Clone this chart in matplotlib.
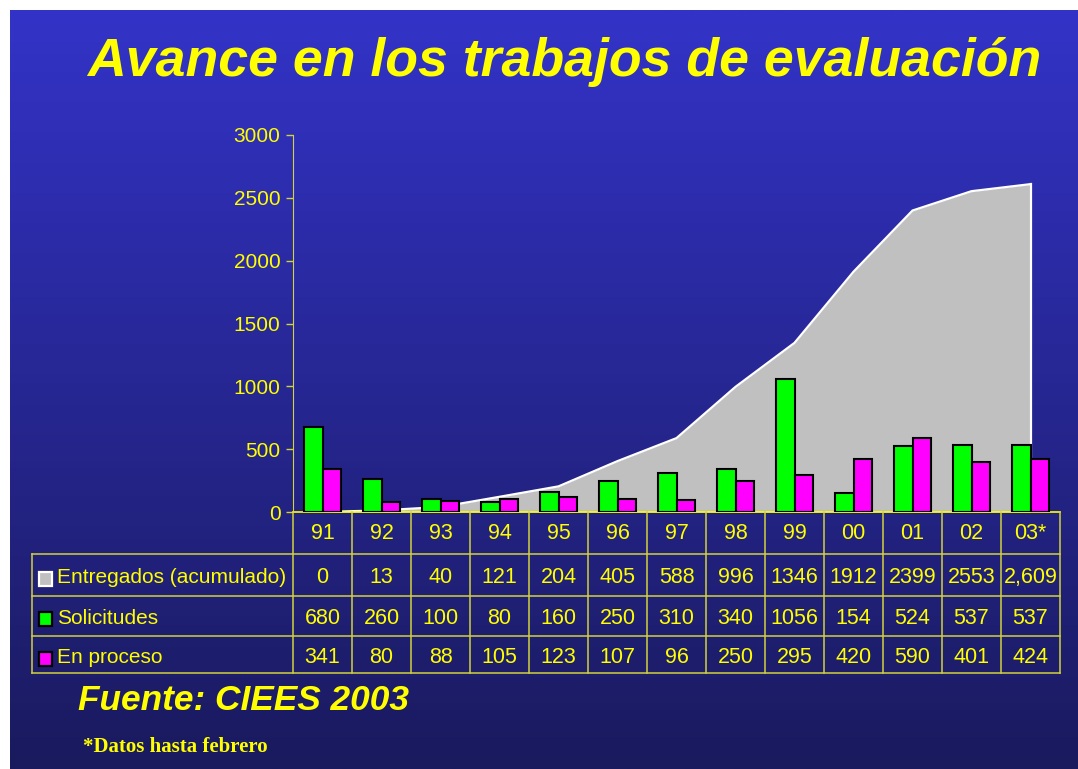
import numpy as np
import matplotlib
matplotlib.use("Agg")
import matplotlib.pyplot as plt
from matplotlib.transforms import blended_transform_factory
from matplotlib.patches import Rectangle

# data
years = ["91", "92", "93", "94", "95", "96", "97", "98", "99", "00", "01", "02", "03*"]
entregados = [0, 13, 40, 121, 204, 405, 588, 996, 1346, 1912, 2399, 2553, 2609]
solicitudes = [680, 260, 100, 80, 160, 250, 310, 340, 1056, 154, 524, 537, 537]
en_proceso = [341, 80, 88, 105, 123, 107, 96, 250, 295, 420, 590, 401, 424]
entregados_txt = [str(v) for v in entregados[:-1]] + ["2,609"]
series_names = ["Entregados (acumulado)", "Solicitudes", "En proceso"]
yticks = [0, 500, 1000, 1500, 2000, 2500, 3000]

W, H = 1078, 769
YEL = "#FFFF00"
LINE = "#D2D23C"
plt.rcParams['font.family'] = ['Liberation Sans', 'DejaVu Sans']

fig = plt.figure(figsize=(W / 100, H / 100), dpi=100)
fig.patch.set_facecolor("white")

def fy(p):
    return 1 - p / H

def fx(p):
    return p / W

# blue gradient background (white strip top and left)
bg = fig.add_axes([fx(10), 0, fx(W - 10), fy(10)], zorder=-5)
top = np.array([51, 51, 200]) / 255
bot = np.array([26, 26, 94]) / 255
t = np.linspace(0, 1, 256)[:, None]
grad = top[None, :] * (1 - t) + bot[None, :] * t
bg.imshow(grad[:, None, :], aspect="auto", extent=[0, 1, 0, 1])
bg.axis("off")

# chart
ax = fig.add_axes([fx(293), fy(512), fx(1060 - 293), fy(135) - fy(512)])
ax.set_facecolor("none")
x = np.arange(len(years))
ax.fill_between(x, entregados, 0, color="#C0C0C0", lw=0, zorder=1)
ax.plot(x, entregados, color="white", lw=1.6, zorder=2)
ax.plot([x[-1], x[-1]], [0, entregados[-1]], color="white", lw=1.6, zorder=2)
bw = 0.31
ax.bar(x - bw / 2, solicitudes, bw, color="#00FF00", edgecolor="black", lw=1.5, zorder=3)
ax.bar(x + bw / 2, en_proceso, bw, color="#FF00FF", edgecolor="black", lw=1.5, zorder=3)

ax.set_xlim(-0.5, len(years) - 0.5)
ax.set_ylim(0, 3000)
ax.set_yticks(yticks)
ax.set_xticks([])
ax.tick_params(axis="y", colors=LINE, labelcolor=YEL, labelsize=15, length=5, width=1, pad=4)
for s in ["top", "right"]:
    ax.spines[s].set_visible(False)
ax.spines["left"].set_color(LINE)
ax.spines["bottom"].set_color(YEL)
ax.spines["bottom"].set_linewidth(1.2)
for lab in ax.get_yticklabels():
    lab.set_color(YEL)

# data table under the chart
tr = blended_transform_factory(ax.transData, fig.transFigure)
ftr = fig.transFigure
row_base = [539, 583, 624, 663]
hlines = [554, 596, 636, 673]
for p in hlines:
    fig.add_artist(plt.Line2D([fx(32), fx(1060)], [fy(p), fy(p)], color=LINE, lw=1.1, transform=ftr))
fig.add_artist(plt.Line2D([fx(32), fx(32)], [fy(554), fy(673)], color=LINE, lw=1.1, transform=ftr))
for k in range(len(years) + 1):
    fig.add_artist(plt.Line2D([k - 0.5, k - 0.5], [fy(512), fy(673)], color=LINE, lw=1.1, transform=tr))

rows = [years, entregados_txt, [str(v) for v in solicitudes], [str(v) for v in en_proceso]]
for r, vals in enumerate(rows):
    for i, v in enumerate(vals):
        fig.text(x[i], fy(row_base[r]), v, transform=tr, color=YEL, fontsize=15.5,
                 ha="center", va="baseline")

key_colors = [("#C0C0C0", "white"), ("#00FF00", "black"), ("#FF00FF", "black")]
key_mid = [579, 619, 659]
for r, (name, (fc, ec)) in enumerate(zip(series_names, key_colors)):
    yc = key_mid[r]
    fig.add_artist(Rectangle((fx(39), fy(yc + 7)), fx(13), fy(yc - 7) - fy(yc + 7),
                             facecolor=fc, edgecolor=ec, lw=1.6, transform=ftr))
    fig.text(fx(57), fy(row_base[r + 1]), name, color=YEL, fontsize=15,
             ha="left", va="baseline")

# titles
fig.text(fx(564), fy(62), "Avance en los trabajos de evaluación", color=YEL, fontsize=38.6,
         fontweight="bold", fontstyle="italic", ha="center", va="center")
fig.text(fx(78), fy(700), "Fuente: CIEES 2003", color=YEL, fontsize=25.4,
         fontweight="bold", fontstyle="italic", ha="left", va="center")
fig.text(fx(83), fy(747), "*Datos hasta febrero", color=YEL, fontsize=15,
         fontweight="bold", family=["Liberation Serif", "DejaVu Serif"], ha="left", va="center")

fig.savefig("out.png", dpi=100)
